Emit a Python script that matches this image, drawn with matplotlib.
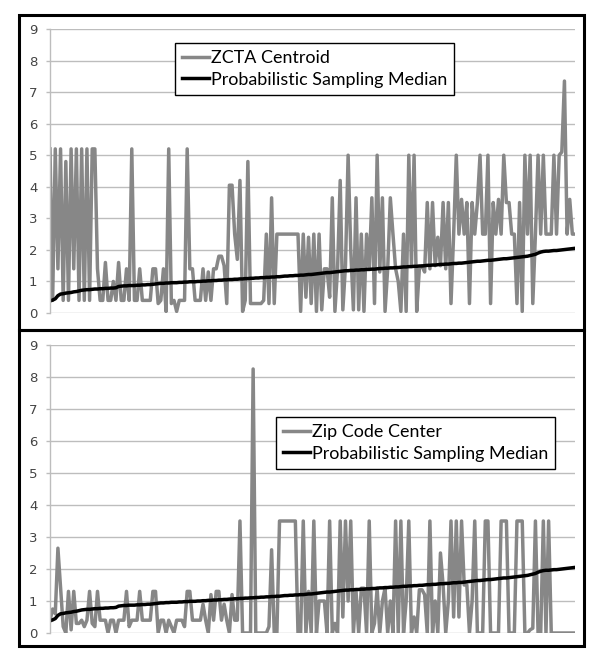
# RECREATING THE TWO DISTANCE CHARTS

# IMPORTING LIBRARIES
import matplotlib
matplotlib.use("Agg")
import matplotlib.pyplot as plt
from matplotlib.patches import Rectangle

# THE DATA (200 POINTS PER SERIES)
median = [0.38, 0.41, 0.45, 0.55, 0.60, 0.61, 0.63, 0.64, 0.65, 0.67,
          0.68, 0.70, 0.72, 0.73, 0.74, 0.74, 0.75, 0.76, 0.76, 0.77,
          0.77, 0.78, 0.78, 0.79, 0.79, 0.80, 0.84, 0.85, 0.86, 0.86,
          0.87, 0.87, 0.87, 0.88, 0.88, 0.89, 0.89, 0.90, 0.90, 0.91,
          0.92, 0.93, 0.94, 0.94, 0.95, 0.95, 0.96, 0.96, 0.96, 0.97,
          0.97, 0.98, 0.98, 0.99, 0.99, 0.99, 1.00, 1.00, 1.01, 1.01,
          1.02, 1.02, 1.03, 1.03, 1.04, 1.04, 1.05, 1.05, 1.06, 1.06,
          1.07, 1.07, 1.08, 1.08, 1.09, 1.09, 1.10, 1.10, 1.11, 1.11,
          1.12, 1.12, 1.13, 1.13, 1.14, 1.14, 1.15, 1.15, 1.16, 1.17,
          1.17, 1.18, 1.18, 1.19, 1.19, 1.20, 1.20, 1.21, 1.22, 1.22,
          1.23, 1.24, 1.25, 1.26, 1.27, 1.28, 1.28, 1.29, 1.30, 1.31,
          1.32, 1.33, 1.34, 1.34, 1.35, 1.35, 1.36, 1.36, 1.37, 1.37,
          1.38, 1.38, 1.39, 1.39, 1.40, 1.41, 1.41, 1.42, 1.42, 1.43,
          1.43, 1.44, 1.44, 1.45, 1.46, 1.46, 1.47, 1.47, 1.48, 1.48,
          1.49, 1.49, 1.50, 1.51, 1.51, 1.52, 1.52, 1.53, 1.54, 1.54,
          1.55, 1.55, 1.56, 1.57, 1.57, 1.58, 1.58, 1.59, 1.60, 1.61,
          1.62, 1.63, 1.64, 1.64, 1.65, 1.66, 1.67, 1.67, 1.68, 1.69,
          1.70, 1.71, 1.72, 1.72, 1.73, 1.74, 1.75, 1.76, 1.77, 1.78,
          1.79, 1.80, 1.82, 1.84, 1.86, 1.90, 1.93, 1.95, 1.96, 1.96,
          1.97, 1.98, 1.98, 1.99, 2.00, 2.01, 2.02, 2.03, 2.04, 2.05]

zcta = [5.2, 0.4, 5.2, 1.4, 5.2, 0.4, 4.8, 0.4, 5.2, 1.4,
        5.2, 0.4, 5.2, 0.4, 5.2, 0.4, 5.2, 5.2, 1.4, 0.4,
        0.4, 1.6, 0.4, 0.4, 1.0, 0.4, 1.6, 0.4, 0.4, 1.4,
        0.4, 5.2, 0.4, 0.4, 1.4, 0.4, 0.4, 0.4, 0.4, 1.4,
        1.4, 0.3, 0.4, 1.4, 0.05, 5.2, 0.3, 0.4, 0.05, 0.4,
        0.4, 0.4, 5.2, 1.4, 1.4, 0.4, 0.4, 0.4, 1.4, 0.4,
        1.3, 0.4, 1.4, 1.4, 1.8, 1.8, 1.5, 0.3, 4.05, 4.05,
        2.5, 1.7, 4.2, 0.05, 0.4, 4.8, 0.3, 0.3, 0.3, 0.3,
        0.3, 0.4, 2.5, 0.3, 3.65, 0.3, 2.5, 2.5, 2.5, 2.5,
        2.5, 2.5, 2.5, 2.5, 2.5, 0.05, 2.5, 0.5, 2.4, 0.3,
        2.5, 0.05, 2.5, 0.1, 1.4, 1.4, 0.5, 3.65, 0.05, 1.4,
        4.2, 0.1, 1.5, 5.0, 2.0, 0.1, 3.65, 0.1, 2.5, 0.05,
        2.5, 1.4, 3.65, 0.3, 5.0, 1.3, 3.65, 0.05, 1.4, 3.65,
        2.5, 1.4, 1.0, 0.05, 2.5, 0.05, 5.0, 1.5, 5.0, 0.05,
        1.4, 1.5, 1.3, 3.5, 1.4, 3.5, 1.5, 2.4, 1.5, 3.5,
        1.4, 3.5, 0.3, 2.5, 5.0, 2.5, 3.6, 2.5, 3.5, 0.3,
        3.5, 2.5, 3.5, 5.0, 2.5, 2.5, 5.0, 0.3, 3.5, 2.5,
        3.6, 2.5, 5.0, 3.5, 3.5, 2.5, 2.5, 0.3, 3.5, 0.05,
        5.0, 2.5, 5.0, 0.3, 2.5, 5.0, 2.5, 5.0, 2.5, 2.5,
        2.5, 5.0, 2.5, 5.0, 5.1, 7.35, 2.5, 3.6, 2.5, 2.5]

zipcode = [0.4, 0.75, 0.6, 2.65, 1.4, 0.2, 0.0, 1.3, 0.1, 1.3,
           0.3, 0.3, 0.4, 0.2, 0.4, 1.3, 0.3, 0.2, 1.3, 0.4,
           0.4, 0.4, 0.0, 0.4, 0.4, 0.0, 0.4, 0.4, 0.4, 1.3,
           0.2, 0.4, 0.4, 0.4, 1.3, 0.4, 0.4, 0.4, 0.4, 1.3,
           1.3, 0.0, 0.4, 0.4, 0.0, 0.4, 0.2, 0.0, 0.4, 0.4,
           0.4, 0.2, 1.3, 1.3, 0.4, 0.4, 0.4, 0.4, 0.9, 0.4,
           0.0, 1.2, 0.4, 1.3, 1.3, 0.4, 0.9, 0.4, 0.0, 1.2,
           0.4, 0.4, 3.5, 0.0, 0.0, 0.0, 0.0, 8.25, 0.0, 0.0,
           0.0, 0.0, 0.0, 0.2, 2.6, 0.0, 0.0, 3.5, 3.5, 3.5,
           3.5, 3.5, 3.5, 3.5, 0.0, 0.0, 3.5, 0.0, 1.3, 0.0,
           3.5, 0.0, 1.0, 1.0, 1.0, 0.0, 3.5, 0.0, 0.3, 0.0,
           3.5, 0.5, 3.5, 1.0, 3.5, 0.0, 1.3, 0.0, 1.4, 1.4,
           0.0, 3.5, 0.0, 0.3, 1.4, 0.0, 1.0, 1.4, 0.0, 1.0,
           0.0, 3.5, 0.0, 3.5, 0.0, 1.0, 3.5, 0.0, 0.5, 0.0,
           1.35, 1.35, 1.2, 0.0, 3.5, 0.0, 1.0, 0.0, 2.5, 1.5,
           0.0, 1.0, 3.5, 0.5, 3.5, 0.5, 3.5, 1.5, 1.5, 0.0,
           1.0, 3.5, 0.0, 0.0, 0.0, 3.5, 3.5, 0.0, 0.0, 0.0,
           0.0, 3.5, 3.5, 3.5, 0.0, 0.0, 0.0, 3.5, 3.5, 3.5,
           0.0, 0.0, 0.1, 0.15, 3.5, 0.0, 0.0, 3.5, 0.0, 3.5,
           0.0, 0.0, 0.0, 0.0, 0.0, 0.0, 0.0, 0.0, 0.0, 0.0]

yticks = [0, 1, 2, 3, 4, 5, 6, 7, 8, 9]
labels_top = ["ZCTA Centroid", "Probabilistic Sampling Median"]
labels_bottom = ["Zip Code Center", "Probabilistic Sampling Median"]

W, H = 600, 662
fig = plt.figure(figsize=(W / 100, H / 100), dpi=100)

# THE TWO BLACK BOXES AROUND EACH PANEL
for y0, y1 in [(15, 330), (330, 646)]:
    fig.patches.append(Rectangle((19 / W, 1 - y1 / H), 565 / W, (y1 - y0) / H,
                                 transform=fig.transFigure, fill=False,
                                 edgecolor="black", linewidth=2.2))


def panel(rect, series, labels, leg_xy):
    ax = fig.add_axes(rect)
    x = range(len(series))
    ax.plot(x, series, color="#878787", linewidth=2.5, label=labels[0])
    ax.plot(x, median, color="black", linewidth=2.5, label=labels[1])
    ax.set_xlim(0, len(series) - 1)
    ax.set_ylim(0, 9)
    ax.set_yticks(yticks)
    ax.set_xticks([])
    ax.grid(axis="y", color="#bdbdbd", linewidth=1.0)
    ax.set_axisbelow(True)
    for s in ["top", "right", "bottom"]:
        ax.spines[s].set_visible(False)
    ax.spines["left"].set_color("#bdbdbd")
    ax.spines["left"].set_linewidth(1.0)
    ax.tick_params(axis="y", length=3, width=1.0, color="#bdbdbd",
                   labelsize=9.5, labelcolor="#444444", pad=6)
    leg = ax.legend(loc="upper left", bbox_to_anchor=leg_xy,
                    bbox_transform=fig.transFigure, borderaxespad=0,
                    frameon=True, fancybox=False, framealpha=1,
                    edgecolor="black", prop={"family": "Lato", "size": 12.9},
                    handlelength=1.5, handletextpad=0.15, borderpad=0.38,
                    labelspacing=0.33)
    leg.get_frame().set_linewidth(1.0)
    return ax


panel([50 / W, 1 - 313 / H, 525 / W, 284 / H], zcta, labels_top,
      (175 / W, 1 - 43 / H))
panel([50 / W, 1 - 633 / H, 525 / W, 288 / H], zipcode, labels_bottom,
      (276 / W, 1 - 417 / H))

# SAVING THE PICTURE
fig.savefig("out.png", dpi=100)
